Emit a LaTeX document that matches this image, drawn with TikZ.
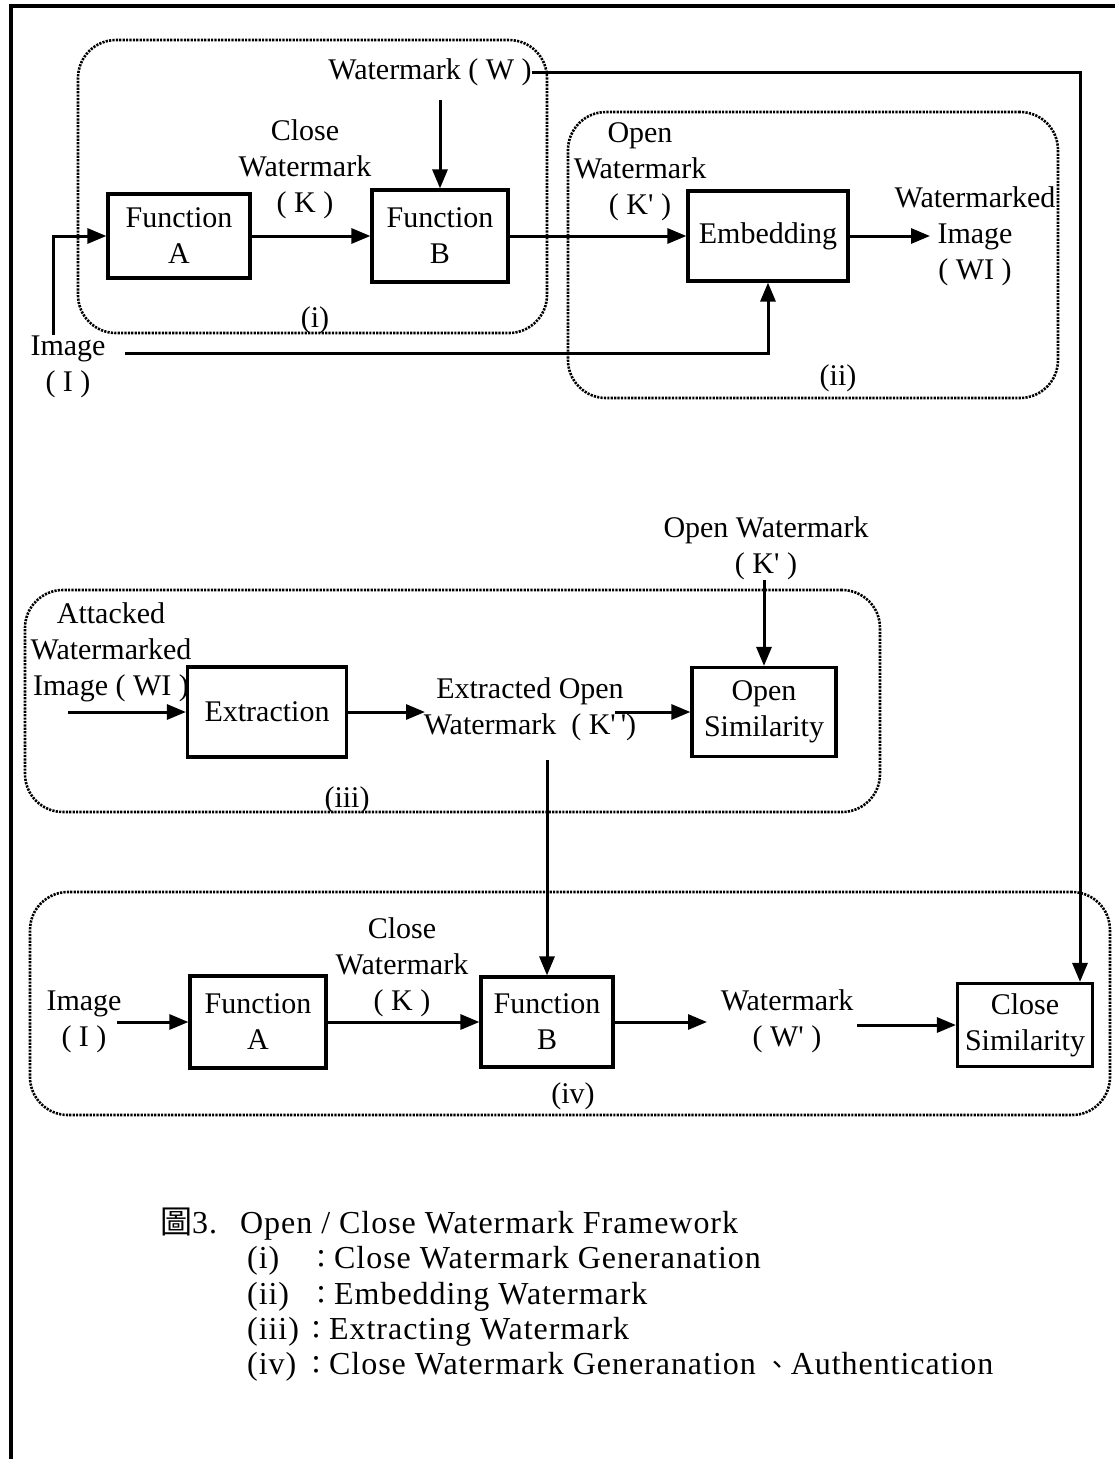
\documentclass[tikz,border=0pt]{standalone}
\usepackage{fontspec}
\setmainfont{Liberation Serif}[Ligatures=TeXOff]
\newfontfamily\cjk{Noto Sans CJK TC}
\usetikzlibrary{arrows.meta}
\begin{document}
\begin{tikzpicture}[x=1pt,y=-1pt,
  font=\fontsize{30}{36}\selectfont,
  blk/.style={draw,line width=3.2pt,inner sep=0pt,align=center},
  lbl/.style={inner sep=0pt,align=center},
  grp/.style={draw,line width=2.6pt,dash pattern=on 2.2pt off 1.2pt,rounded corners=38pt,inner sep=0pt},
  arr/.style={line width=3pt,-{Triangle[length=19pt,width=15pt]}},
  captext/.style={inner sep=0pt,anchor=base west,font=\fontsize{32}{36}\selectfont\addfontfeature{LetterSpace=3}}
]
\useasboundingbox (0,0) rectangle (1115,1459);

% page frame
\draw[line width=3.2pt] (1115,6) -- (11,6) -- (11,1459);

% ---------- (i) close watermark generation, (ii) embedding ----------
\node[grp,minimum width=469pt,minimum height=293pt] (gi) at (312.5,186.5) {};
\node[grp,minimum width=490pt,minimum height=286pt] (gii) at (813,255) {};

\node[blk,minimum width=142pt,minimum height=84pt] (fa1) at (179,236) {Function\\A};
\node[blk,minimum width=136pt,minimum height=92pt] (fb1) at (440,236) {Function\\B};
\node[blk,minimum width=160pt,minimum height=90pt] (emb) at (768,236) {Embedding};

\node[lbl] (wtop) at (430,72) {Watermark ( W )};
\node[lbl] (k1) at (305,169) {Close\\Watermark\\( K )};
\node[lbl] (img1) at (68,367) {Image\\( I )};
\node[lbl] (okp1) at (640,172) {Open\\Watermark\\( K' )};
\node[lbl] (wi) at (975,236) {Watermarked\\Image\\( WI )};
\node[lbl] (li) at (315,320) {(i)};
\node[lbl] (lii) at (838,378) {(ii)};

% ---------- (iii) extracting ----------
\node[grp,minimum width=855pt,minimum height=222pt] (giii) at (452.5,701) {};
\node[lbl] (okp2) at (766,548) {Open Watermark\\( K' )};
\node[blk,minimum width=144pt,minimum height=89pt] (osim) at (764,712) {Open\\Similarity};
\node[lbl] (att) at (111,652) {Attacked\\Watermarked\\Image ( WI )};
\node[blk,minimum width=159pt,minimum height=90pt] (ext) at (267,712) {Extraction};
\node[lbl] (xk) at (530,709) {Extracted Open\\Watermark\ \ ( K'\,')};
\node[lbl] (liii) at (347,800) {(iii)};

% ---------- (iv) generation and authentication ----------
\node[grp,minimum width=1080pt,minimum height=223pt] (giv) at (570,1003.5) {};
\node[lbl] (img2) at (84,1022) {Image\\( I )};
\node[blk,minimum width=136pt,minimum height=92pt] (fa2) at (258,1022) {Function\\A};
\node[blk,minimum width=132pt,minimum height=90pt] (fb2) at (547,1022) {Function\\B};
\node[lbl] (k2) at (402,967) {Close\\Watermark\\( K )};
\node[lbl] (w2) at (787,1021) {Watermark\\( W' )};
\node[blk,minimum width=135pt,minimum height=83pt] (cs) at (1025,1025) {Close\\Similarity};
\node[lbl] (liv) at (573,1096) {(iv)};

% free ends of connectors
\coordinate (i1a) at (53,335);
\coordinate (i1b) at (125,353);
\coordinate (wa) at (440,100);
\coordinate (wi0) at (930,236);
\coordinate (att0) at (68,712);
\coordinate (xk0) at (425,712);
\coordinate (xk1) at (615,712);
\coordinate (xk2) at (547,760);
\coordinate (i2) at (117,1022);
\coordinate (w2a) at (707,1022);
\coordinate (w2b) at (857,1025);

% connectors
\draw[arr] (i1a) |- (fa1.west);
\draw[arr] (i1b) -| (emb.south);
\draw[arr] (wa) -- (fb1.north);
\draw[arr] (fa1.east) -- (fa1.east -| fb1.west);
\draw[arr] (fb1.east) -- (emb.west);
\draw[arr] (emb.east) -- (wi0);
\draw[arr] (wtop.east) -| ([xshift=55pt]cs.north);

\draw[arr] (okp2.south -| osim.north) -- (osim.north);
\draw[arr] (att0) -- (ext.west);
\draw[arr] (ext.east) -- (xk0);
\draw[arr] (xk1) -- (osim.west);
\draw[arr] (xk2) -- (fb2.north);

\draw[arr] (i2) -- (fa2.west);
\draw[arr] (fa2.east) -- (fb2.west);
\draw[arr] (fb2.east) -- (w2a);
\draw[arr] (w2b) -- (cs.west);

% caption
\node[captext] (c0) at (160,1233) {{\cjk 圖}3.};
\node[captext] (c1) at (240,1233) {Open / Close Watermark Framework};
\node[captext] (c2a) at (247,1268) {(i)};
\node[captext] (c2b) at (308,1268) {{\cjk\fontsize{26}{30}\selectfont ：}Close Watermark Generanation};
\node[captext] (c3a) at (247,1304) {(ii)};
\node[captext] (c3b) at (308,1304) {{\cjk\fontsize{26}{30}\selectfont ：}Embedding Watermark};
\node[captext] (c4a) at (247,1339) {(iii)};
\node[captext] (c4b) at (303,1339) {{\cjk\fontsize{26}{30}\selectfont ：}Extracting Watermark};
\node[captext] (c5a) at (247,1374) {(iv)};
\node[captext] (c5b) at (303,1374) {{\cjk\fontsize{26}{30}\selectfont ：}Close Watermark Generanation {\cjk\fontsize{26}{30}\selectfont 、}Authentication};
\end{tikzpicture}
\end{document}
